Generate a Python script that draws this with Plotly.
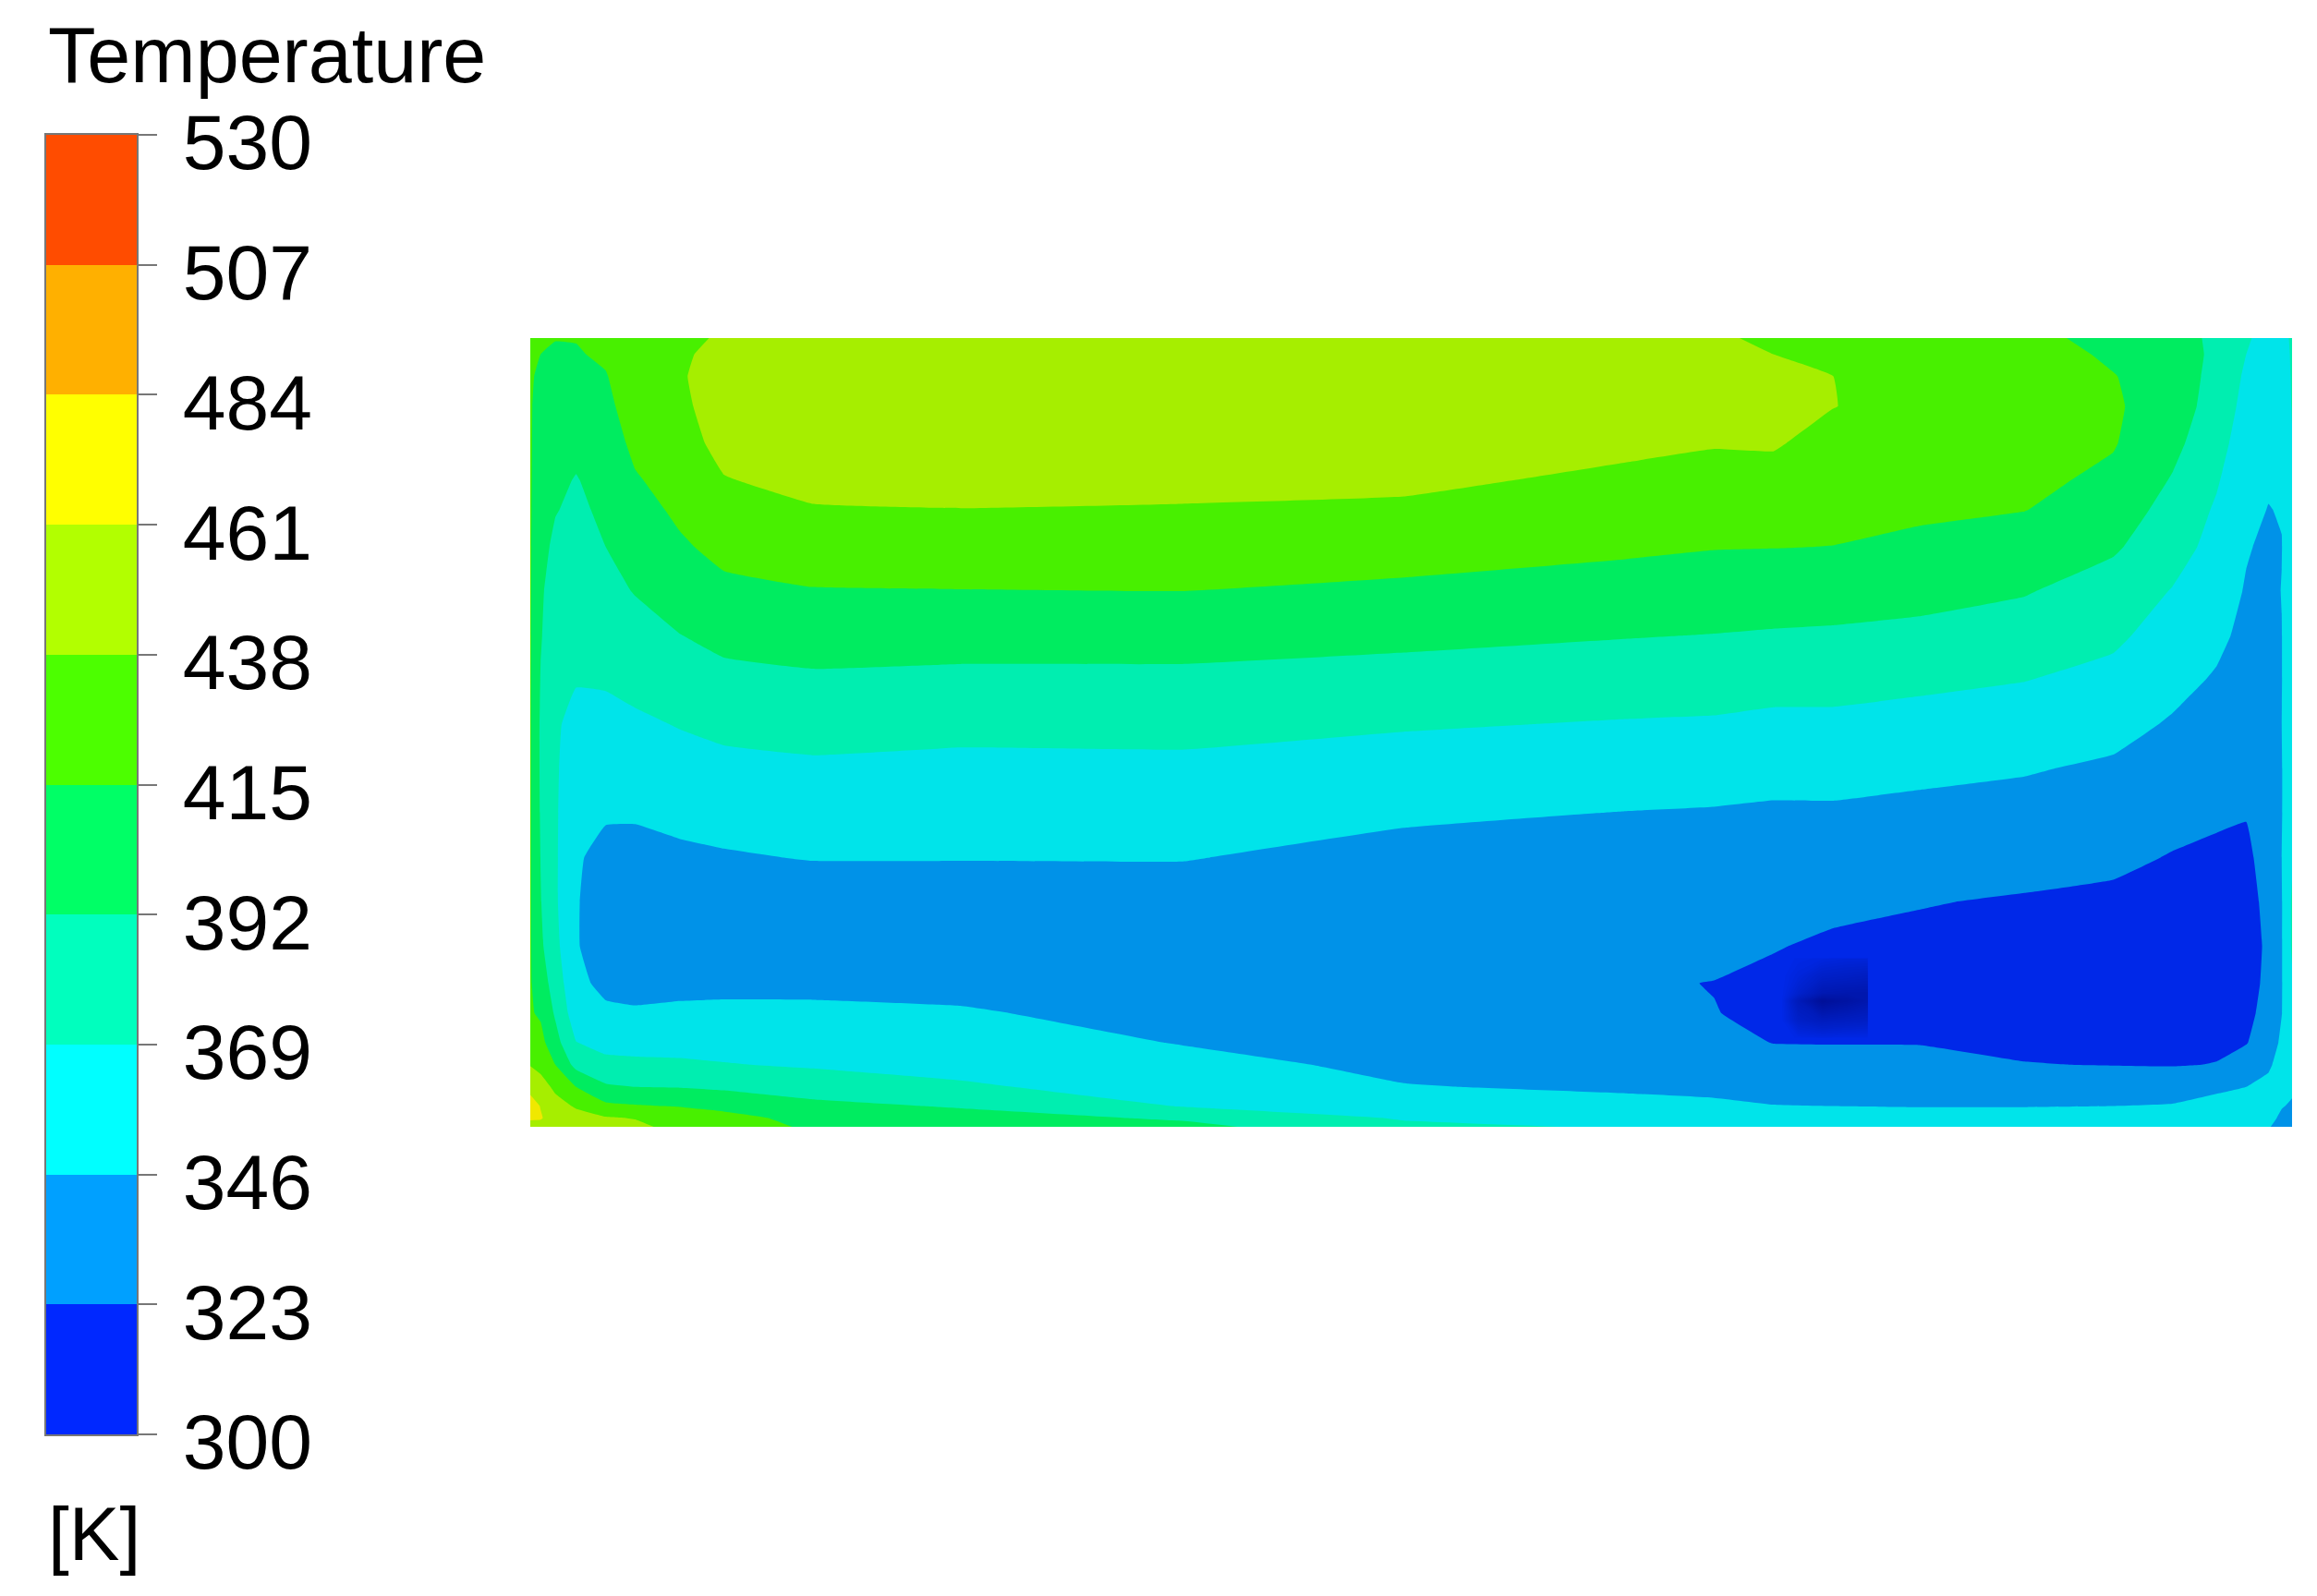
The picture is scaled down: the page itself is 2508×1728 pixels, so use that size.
import numpy as np
import plotly.graph_objects as go

WIDTH = 2508
HEIGHT = 1728

# temperature bands
levels = [300, 323, 346, 369, 392, 415, 438, 461, 484, 507, 530]
bar_colors = ['#0028ff', '#00a0ff', '#00ffff', '#00ffbe', '#00ff66',
              '#4cff00', '#b2ff00', '#ffff00', '#ffb000', '#ff4c00']
# the contour itself is a bit darker than the legend bar
field_colors = ['#0028e8', '#0092e8', '#00e4ea', '#00eeb0', '#00ec60',
                '#48f000', '#a6ee00', '#f0e800', '#f0a000', '#f04000']

# stations along the wall and down the section
x_pos = [359, 366, 376, 390, 410, 430, 460, 490, 550, 650, 800, 950, 1100,
         1160, 1200, 1240, 1300, 1370, 1430, 1470, 1500, 1520, 1535, 1544, 1551]
y_pos = [229, 240, 255, 275, 300, 325, 345, 370, 400, 430, 460, 490, 520,
         550, 580, 610, 640, 665, 685, 705, 720, 735, 748, 756, 762]

# temperature [K], one list per x station
t_359 = [425, 420, 418, 417, 417, 417, 417, 417, 417, 417, 417, 417, 417, 417, 417, 417, 417, 417, 417, 425, 437, 453, 472, 465, 450]
t_366 = [418, 415, 410, 407, 405, 403, 401, 398, 395, 393.5, 391, 389, 389, 390, 391.5, 393, 396, 403, 412, 422, 432, 446, 460, 463, 452]
t_376 = [416, 411, 408, 405, 402, 396, 393, 388, 382, 379, 375, 372, 372, 372, 372, 372, 375, 382, 389, 400, 415, 434, 445, 449, 447]
t_390 = [416, 413, 410, 406, 397, 391, 388, 384, 379, 375, 370.5, 362, 355, 350, 347.5, 347, 347, 350, 356, 369.5, 385, 415, 436, 445, 446]
t_410 = [425, 419, 413.5, 409, 404, 399, 396, 392, 386, 380, 371, 363, 355, 347.5, 342, 339, 339, 342, 349, 362, 375, 395, 420, 440, 444]
t_430 = [430, 432, 431, 427, 420, 413, 407, 401, 393, 384, 375, 365.5, 356.5, 348, 340, 335, 335, 340, 348, 362, 373, 392, 417, 437, 443]
t_460 = [434, 435, 436, 434, 430, 424, 419, 412, 403, 391.5, 381, 370, 361, 351.5, 342, 334, 332, 340, 350, 362, 372, 391, 414, 428, 431]
t_490 = [440, 444, 447, 447, 444, 437, 430, 421, 410, 398, 386, 374, 363.5, 354, 344, 333, 330, 340, 351, 361, 370, 388, 410, 421, 425]
t_550 = [448, 452, 456, 456, 452, 444, 436.5, 425, 414, 401, 389, 377, 365.5, 356, 347, 334, 330, 341, 350, 358.5, 366.5, 381, 398, 409, 412]
t_650 = [450, 454, 458, 459, 455, 447, 437.5, 426, 414.5, 401, 387, 374.5, 364, 356, 347, 334, 327, 338, 348.5, 357, 363, 371.5, 390, 401, 406]
t_800 = [450, 454, 457, 458, 454, 446, 436, 426.5, 415, 401, 387, 375, 364.5, 356, 347, 336, 328, 331, 337, 345, 353, 361, 368, 389, 398]
t_950 = [447, 451, 456, 458, 454, 443, 434, 424, 411, 397, 384, 371, 359, 349.5, 339, 333, 329, 329, 331, 336, 341, 347, 358, 367, 374]
t_1100 = [445, 449, 452, 449, 443.5, 433, 425, 418.5, 406, 393, 380, 367.5, 357, 345.5, 337, 331, 327, 325, 325, 331, 336, 343, 352, 360, 367]
t_1160 = [441, 445, 447, 445, 439.5, 430, 423, 416, 403, 391.5, 379, 366.5, 355, 344.5, 337, 332, 328, 322.6, 323.4, 330, 335, 342, 349, 357, 364]
t_1200 = [434, 438, 443, 445, 440, 431, 424, 415.5, 403, 390, 377, 364, 353.5, 343, 336, 330, 324, 319, 320, 322.5, 332, 340, 346.5, 352, 358]
t_1240 = [427, 431, 438.2, 438.6, 431, 426, 420.5, 414.8, 402, 389, 376, 364.5, 352.5, 343.5, 335, 327.5, 320, 316, 318, 322, 332, 340, 346, 351, 357]
t_1300 = [423, 426, 428, 429, 427, 422, 418, 411, 399, 386.5, 373, 362, 350.5, 341, 333, 324, 318, 316, 318, 322, 330, 337.5, 345.5, 351, 356]
t_1370 = [424, 427, 428.5, 428, 426, 420, 415.5, 405, 393.5, 381.5, 369.5, 358.5, 347.5, 339, 331, 321, 317, 316, 317, 320, 323.5, 335, 345.5, 351, 355]
t_1430 = [405, 411, 416, 418, 416.5, 410.5, 404.5, 395, 382, 373, 363, 352.5, 343, 335, 327, 319, 315, 315, 316, 318, 322.5, 335, 346, 352, 356]
t_1470 = [400, 402, 403, 403, 398, 390.5, 384, 378, 368, 360, 352, 344, 336, 329, 322, 318, 315, 315, 316, 318, 322, 335, 347.5, 355, 360]
t_1500 = [388, 388, 386, 383, 377, 371, 366.5, 362, 356, 350.5, 344, 337, 331.5, 325, 320.5, 318, 316, 316, 317, 320, 323.5, 342, 353, 360, 364]
t_1520 = [372, 369, 365.5, 362, 358, 354, 351, 347.5, 344.5, 341, 338, 335, 331, 323.5, 321, 319, 318, 318, 318.5, 322, 332, 346, 358, 364, 367]
t_1535 = [360, 360, 359, 356, 352, 348, 345.5, 342.5, 340, 338, 337, 336, 333, 330, 327, 326, 325, 326, 329, 334, 342, 353, 361, 356, 348]
t_1544 = [358, 358, 357, 355, 352, 349, 347, 345.5, 346.5, 345.5, 345.5, 346, 345, 345, 346, 345, 345, 345, 345.5, 350, 356, 362, 348, 340, 336]
t_1551 = [374, 372, 371, 370, 368, 366, 364, 362, 362, 366, 362, 363, 366, 366, 366, 372, 372, 366, 362, 360, 358, 352, 342, 332, 328]

# darker patch inside the coldest band
spot_x = [1205, 1217, 1233, 1250, 1264]
spot_y = [648, 660, 672, 677, 690, 702]
spot_dark = [
    [0.00, 0.05, 0.10, 0.15, 0.15],
    [0.00, 0.15, 0.35, 0.40, 0.45],
    [0.00, 0.30, 0.65, 0.70, 0.70],
    [0.00, 0.55, 1.00, 0.85, 0.70],
    [0.00, 0.35, 0.50, 0.45, 0.40],
    [0.00, 0.05, 0.08, 0.05, 0.05],
]


def make_contour_scale(colors):
    # plotly reads a fill band at the middle of its slot, one slot below and above the range
    stops = [colors[0]] + colors + [colors[-1]]
    return [[i / (len(stops) - 1), c] for i, c in enumerate(stops)]


def make_step_scale(colors):
    scale = []
    for i, c in enumerate(colors):
        scale.append([i / len(colors), c])
        scale.append([(i + 1) / len(colors), c])
    return scale


temps = np.array([t_359, t_366, t_376, t_390, t_410, t_430, t_460, t_490, t_550,
                  t_650, t_800, t_950, t_1100, t_1160, t_1200, t_1240, t_1300,
                  t_1370, t_1430, t_1470, t_1500, t_1520, t_1535, t_1544, t_1551]).T

fig = go.Figure()

fig.add_trace(go.Contour(
    x=x_pos, y=y_pos, z=temps,
    autocontour=False,
    contours=dict(start=levels[0], end=levels[-1], size=23, coloring='fill', showlines=False),
    colorscale=make_contour_scale(field_colors),
    line=dict(width=0, smoothing=0.3),
    showscale=False,
    hoverinfo='skip',
))

# heatmaps sit under contours in plotly, so the patch is a second contour
# its fills stack on each other, so each one only adds a little
fig.add_trace(go.Contour(
    x=spot_x, y=spot_y, z=spot_dark,
    autocontour=False,
    contours=dict(start=0.04, end=1, size=0.04, coloring='fill', showlines=False),
    colorscale=[[0, 'rgba(0,10,60,0)'], [0.03, 'rgba(0,10,60,0.018)'], [1, 'rgba(0,10,60,0.018)']],
    line=dict(width=0, smoothing=0),
    showscale=False,
    hoverinfo='skip',
))

# legend bar on its own axes
mids = [(a + b) / 2 for a, b in zip(levels[:-1], levels[1:])]
fig.add_trace(go.Heatmap(
    x=[0, 1], y=levels, z=[[m] for m in mids],
    zmin=levels[0], zmax=levels[-1],
    colorscale=make_step_scale(bar_colors),
    showscale=False,
    xaxis='x2', yaxis='y2',
    hoverinfo='skip',
))

fig.update_layout(
    width=WIDTH,
    height=HEIGHT,
    margin=dict(l=0, r=0, t=0, b=0),
    paper_bgcolor='white',
    plot_bgcolor='white',
    font=dict(family='Liberation Sans', color='black'),
    xaxis=dict(domain=[574 / WIDTH, 2481 / WIDTH], range=[359, 1551], visible=False, automargin=False),
    yaxis=dict(domain=[1 - 1220 / HEIGHT, 1 - 366 / HEIGHT], range=[762, 229], visible=False, automargin=False),
    xaxis2=dict(domain=[50 / WIDTH, 148 / WIDTH], range=[0, 1], anchor='y2', automargin=False,
                showticklabels=False, ticks='', showgrid=False, zeroline=False,
                showline=True, mirror=True, linecolor='#777777', linewidth=2),
    yaxis2=dict(domain=[1 - 1553 / HEIGHT, 1 - 146 / HEIGHT], range=[300, 530], anchor='x2',
                side='right', automargin=False,
                tickmode='array', tickvals=levels, ticktext=[str(v) for v in levels],
                ticks='outside', ticklen=20, tickwidth=2, tickcolor='#777777',
                ticklabelstandoff=11, ticklabelshift=8,
                tickfont=dict(size=84, family='Liberation Sans', color='black'),
                showgrid=False, zeroline=False,
                showline=True, mirror=True, linecolor='#777777', linewidth=2),
    annotations=[
        dict(text='Temperature', x=50 / WIDTH, y=1 - 60 / HEIGHT, xref='paper', yref='paper',
             xanchor='left', yanchor='middle', showarrow=False, font=dict(size=84.5)),
        dict(text='[K]', x=50 / WIDTH, y=1 - 1660 / HEIGHT, xref='paper', yref='paper',
             xanchor='left', yanchor='middle', showarrow=False, font=dict(size=82)),
    ],
)

fig.write_html("out.html", config={'displayModeBar': False},
               post_script="document.body.style.margin = '0';")
